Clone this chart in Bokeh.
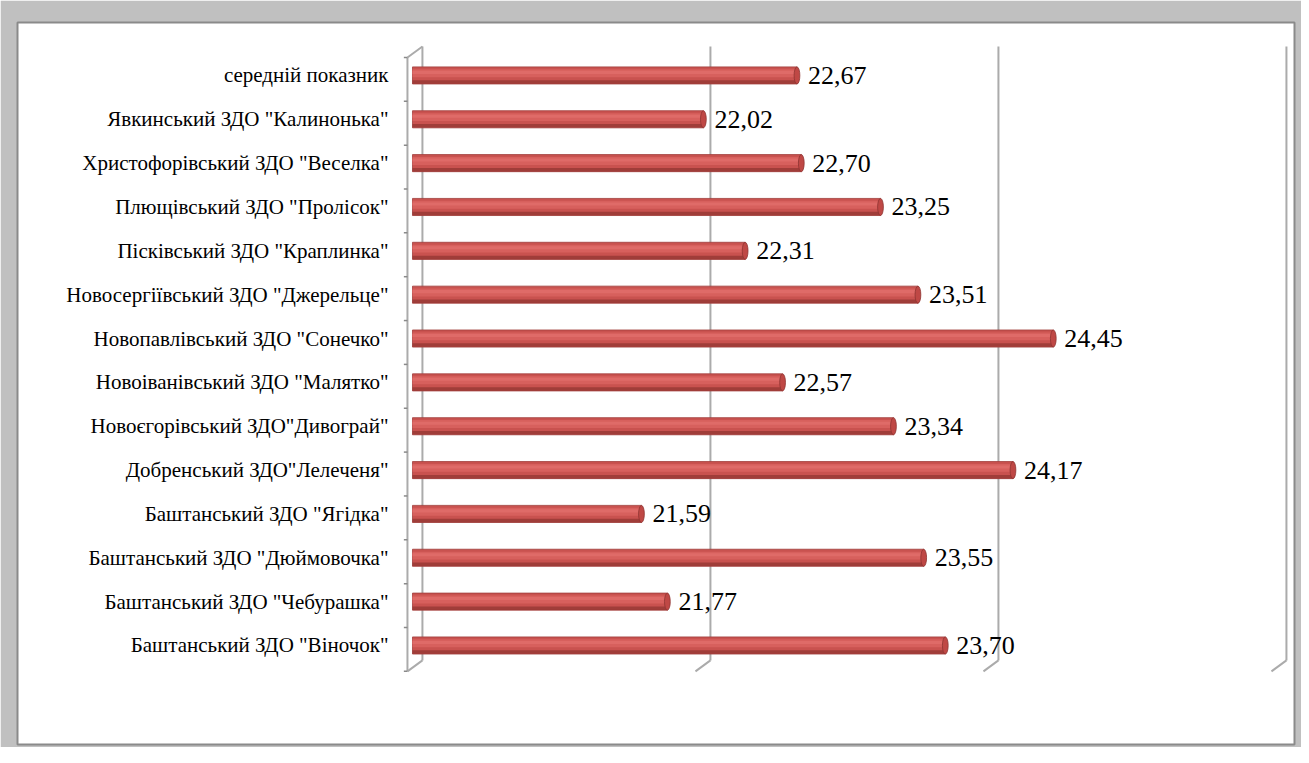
from bokeh.plotting import figure
from bokeh.models import Range1d, ColumnDataSource
from bokeh.core.properties import value
from bokeh.embed import file_html
from bokeh.resources import INLINE

# ---- data (bottom to top, as drawn) ----
categories = [
    'Баштанський ЗДО "Віночок"',
    'Баштанський ЗДО "Чебурашка"',
    'Баштанський ЗДО "Дюймовочка"',
    'Баштанський ЗДО "Ягідка"',
    'Добренський ЗДО"Лелеченя"',
    'Новоєгорівський ЗДО"Дивограй"',
    'Новоіванівський ЗДО "Малятко"',
    'Новопавлівський ЗДО "Сонечко"',
    'Новосергіївський ЗДО "Джерельце"',
    'Пісківський ЗДО "Краплинка"',
    'Плющівський ЗДО "Пролісок"',
    'Христофорівський ЗДО "Веселка"',
    'Явкинський ЗДО "Калинонька"',
    'середній показник',
]
values = [23.70, 21.77, 23.55, 21.59, 24.17, 23.34, 22.57,
          24.45, 23.51, 22.31, 23.25, 22.70, 22.02, 22.67]
axis_min = 20
grid_values = [20, 22, 24, 26]

n = len(categories)
pos = list(range(n))
labels = [f"{v:.2f}".replace(".", ",") for v in values]
src = ColumnDataSource(dict(y=pos, cat=categories, v=values, lab=labels,
                            base=[axis_min] * n))

FONT = value("Liberation Serif")

p = figure(width=1301, height=747, output_backend="svg", toolbar_location=None,
           x_axis_type=None, y_axis_type=None,
           x_range=Range1d(17.257, 26.125), y_range=Range1d(-2.258, 14.207),
           min_border_left=17, min_border_right=7, min_border_top=22,
           min_border_bottom=3)
p.border_fill_color = "#c0c0c0"
p.background_fill_color = "white"
p.outline_line_color = "#8a8a8a"
p.outline_line_width = 2

# 3D offsets (in data units)
fdx, fdy = -0.035, -0.09   # front plane
bdx, bdy = 0.069, 0.16     # back plane
ylo, yhi = -0.5, n - 0.5
GRID = "#ababab"

# back-wall gridlines
gx = [g + bdx for g in grid_values]
p.segment(x0=gx, y0=[ylo + bdy] * len(gx), x1=gx, y1=[yhi + bdy] * len(gx),
          line_color=GRID, line_width=2)
# floor slants
p.segment(x0=gx, y0=[ylo + bdy] * len(gx),
          x1=[g + fdx for g in grid_values], y1=[ylo + fdy] * len(gx),
          line_color=GRID, line_width=2)
# left wall: front axis line, top slant, ticks
p.segment(x0=[axis_min + fdx], y0=[ylo + fdy], x1=[axis_min + fdx], y1=[yhi + fdy],
          line_color=GRID, line_width=2)
p.segment(x0=[axis_min + fdx], y0=[yhi + fdy], x1=[axis_min + bdx], y1=[yhi + bdy],
          line_color=GRID, line_width=2)
ticks = [k - 0.5 + fdy for k in range(n + 1)]
p.segment(x0=[axis_min + fdx - 0.025] * len(ticks), y0=ticks,
          x1=[axis_min + fdx] * len(ticks), y1=ticks,
          line_color="#8a8a8a", line_width=1.5)

# bars (cylinder-like shading)
BH = 0.39
p.hbar(y="y", left="base", right="v", height=BH, source=src,
       fill_color="#c9524f", line_color="#a03d3b", line_width=0.8)
p.hbar(y=[y + 0.05 for y in pos], left=[axis_min] * n, right=values, height=0.18,
       fill_color="#d7605d", line_color=None)
p.hbar(y=[y + 0.07 for y in pos], left=[axis_min] * n, right=values, height=0.07,
       fill_color="#df6b68", line_color=None)
p.hbar(y=[y - 0.15 for y in pos], left=[axis_min] * n, right=values, height=0.08,
       fill_color="#8e3431", line_color=None, fill_alpha=0.7)
p.ellipse(x="v", y="y", width=0.04, height=BH, source=src,
          fill_color="#bf4845", line_color="#8e3431", line_width=0.8)

# value labels
p.text(x="v", y="y", text="lab", source=src, x_offset=11,
       text_baseline="middle", text_align="left",
       text_font=FONT, text_font_size="26px", text_color="black")
# category labels
p.text(x="base", y="y", text="cat", source=src, x_offset=-24,
       text_baseline="middle", text_align="right",
       text_font=FONT, text_font_size="21px", text_color="black")

open("out.html", "w").write(file_html(p, INLINE))
